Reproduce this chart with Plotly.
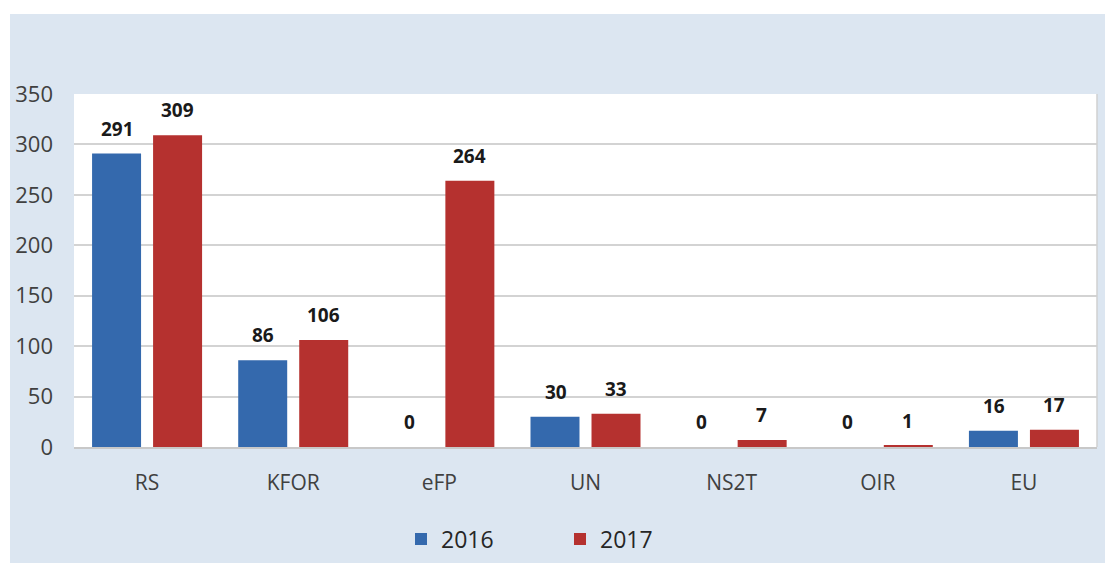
import plotly.graph_objects as go

categories = ["RS", "KFOR", "eFP", "UN", "NS2T", "OIR", "EU"]
values_2016 = [291, 86, 0, 30, 0, 0, 16]
values_2017 = [309, 106, 264, 33, 7, 1, 17]
y_ticks = [0, 50, 100, 150, 200, 250, 300, 350]

BLUE = "#3469ad"
RED = "#b5312f"
FONT = "Open Sans"

fig = go.Figure()
fig.add_trace(go.Bar(x=categories, y=values_2016, name="2016",
                     marker=dict(color=BLUE, line=dict(width=0))))
fig.add_trace(go.Bar(x=categories, y=values_2017, name="2017",
                     marker=dict(color=RED, line=dict(width=0))))

# data labels above bars
for vals, xs in ((values_2016, -30), (values_2017, 30)):
    for c, v in zip(categories, vals):
        fig.add_annotation(x=c, y=v, text=str(v), showarrow=False,
                           xshift=xs, yshift=10, yanchor="bottom",
                           font=dict(family=FONT, size=19, color="#1a1a1a", weight="bold"))

W, H = 1105, 563
L, R, T, B = 74, 8, 94, 116
pw, ph = W - L - R, H - T - B

def px_x(p):
    return (p - L) / pw

def px_y(p):
    return (H - B - p) / ph

# white strips outside the light-blue panel
fig.add_shape(type="rect", xref="paper", yref="paper", x0=px_x(0), x1=px_x(W),
              y0=px_y(14), y1=px_y(0), fillcolor="white", line=dict(width=0), layer="above")
fig.add_shape(type="rect", xref="paper", yref="paper", x0=px_x(0), x1=px_x(10),
              y0=px_y(H), y1=px_y(0), fillcolor="white", line=dict(width=0), layer="above")
# right border of plot area
fig.add_shape(type="line", xref="paper", yref="paper", x0=1, x1=1, y0=0, y1=1,
              line=dict(color="#d0d0d0", width=1.5))

fig.update_layout(
    width=W, height=H,
    margin=dict(l=L, r=R, t=T, b=B, pad=0, autoexpand=False),
    paper_bgcolor="#dce6f1",
    plot_bgcolor="white",
    barmode="group",
    bargap=0.165,
    bargroupgap=0.197,
    font=dict(family=FONT, color="#404040"),
    showlegend=True,
    legend=dict(orientation="h", x=px_x(401), xanchor="left", y=px_y(539), yanchor="middle",
                font=dict(family=FONT, size=23, color="#262626"),
                bgcolor="rgba(0,0,0,0)", itemwidth=30, traceorder="normal",
                entrywidth=114, entrywidthmode="pixels"),
    xaxis=dict(showgrid=False, showline=True, linecolor="#c8c8c8", linewidth=2,
               ticks="", tickfont=dict(family=FONT, size=21, color="#404040"),
               ticklabelstandoff=16, fixedrange=True),
    yaxis=dict(range=[0, 350], tickvals=y_ticks, showgrid=True, gridcolor="#d3d3d3",
               gridwidth=1.5, zeroline=False, showline=False, ticks="",
               tickfont=dict(family=FONT, size=22, color="#404040"),
               ticklabelstandoff=20, fixedrange=True),
)

fig.write_html("out.html", config={"displayModeBar": False},
               post_script="document.body.style.margin='0';document.body.style.overflow='hidden';")
